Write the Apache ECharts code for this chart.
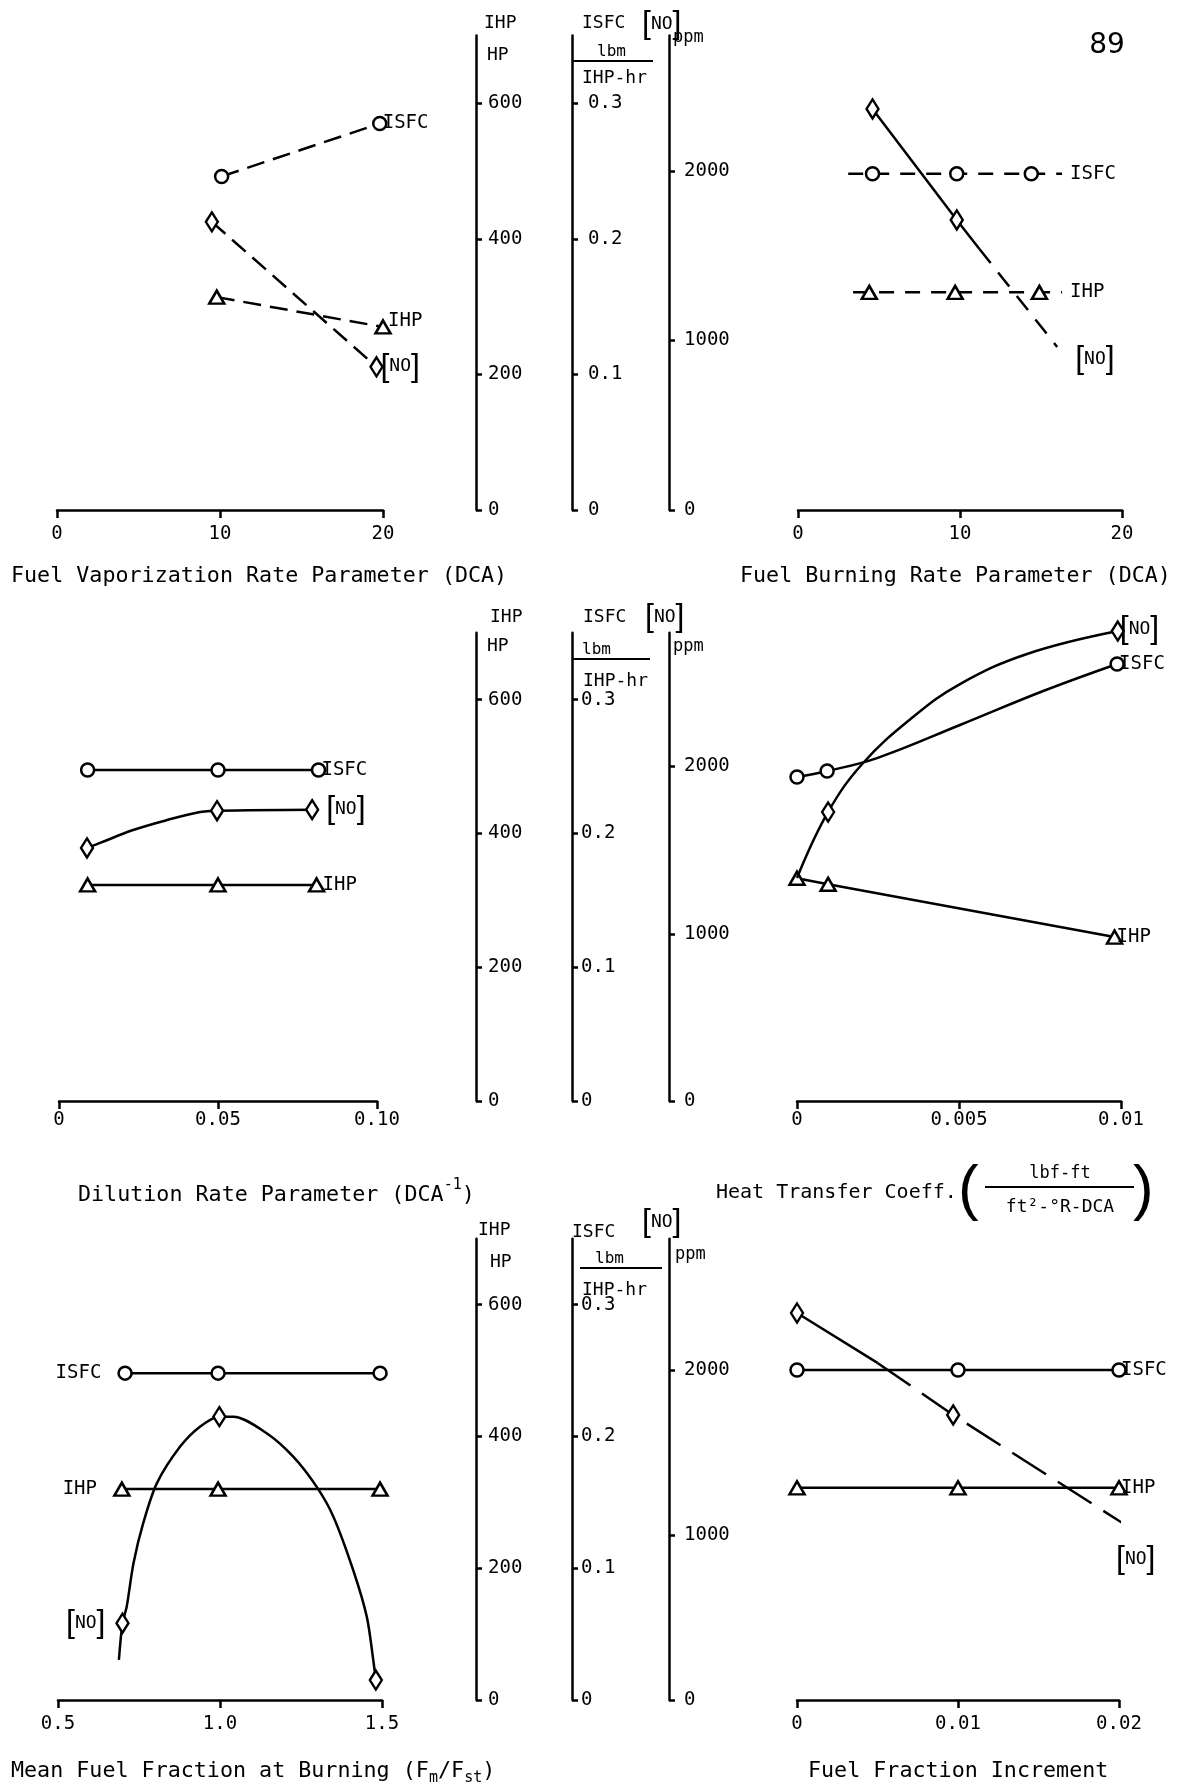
<!DOCTYPE html>
<html>
<head>
<meta charset="utf-8">
<title>ISFC, IHP and NO parameter study</title>
<script src="https://cdn.jsdelivr.net/npm/echarts@6.0.0/dist/echarts.min.js"></script>
<style>
  html, body { margin: 0; padding: 0; background: #fff; }
  #main { width: 1187px; height: 1790px; }
</style>
</head>
<body>
<div id="main"></div>
<script>
/*** values ***/

// shared vertical scales (middle of each row)
const ihpTicks = [0, 200, 400, 600];
const ihpTickLabels = ['0', '200', '400', '600'];
const isfcTicks = [0, 0.1, 0.2, 0.3];
const isfcTickLabels = ['0', '0.1', '0.2', '0.3'];
const ppmTicks = [0, 1000, 2000];
const ppmTickLabels = ['0', '1000', '2000'];

// Fuel Vaporization Rate Parameter (DCA)
const vapTicks = [0, 10, 20];
const vapTickLabels = ['0', '10', '20'];
const vapIsfcX = [10.1, 19.8];
const vapIsfc = [0.246, 0.285];
const vapIhpX = [9.8, 20];
const vapIhp = [314, 270];
const vapNoX = [9.5, 19.6];
const vapNo = [1700, 845];

// Fuel Burning Rate Parameter (DCA)
const burnTicks = [0, 10, 20];
const burnTickLabels = ['0', '10', '20'];
const burnIsfcX = [3.1, 4.6, 9.8, 14.4, 16.3];
const burnIsfc = [0.248, 0.248, 0.248, 0.248, 0.248];
const burnIsfcMarks = [1, 2, 3];
const burnIhpX = [3.4, 4.4, 9.7, 14.9, 16.3];
const burnIhp = [321, 321, 321, 321, 321];
const burnIhpMarks = [1, 2, 3];
const burnNoX = [4.6, 9.8, 11.2];
const burnNo = [2366, 1711, 1540];
const burnNoMarks = [0, 1];
const burnNoExtX = [11.2, 16.0];
const burnNoExt = [1540, 962];

// Dilution Rate Parameter (DCA^-1)
const dilTicks = [0, 0.05, 0.10];
const dilTickLabels = ['0', '0.05', '0.10'];
const dilIsfcX = [0.009, 0.050, 0.0816];
const dilIsfc = [0.2474, 0.2474, 0.2474];
const dilIhpX = [0.009, 0.050, 0.081];
const dilIhp = [323, 323, 323];
const dilNoX = [0.0088, 0.0129, 0.0233, 0.034, 0.0444, 0.0497, 0.0796];
const dilNo = [1513, 1543, 1620, 1680, 1728, 1736, 1742];
const dilNoMarks = [0, 5, 6];

// Heat Transfer Coeff.
const heatTicks = [0, 0.005, 0.01];
const heatTickLabels = ['0', '0.005', '0.01'];
const heatIsfcX = [0, 0.00093, 0.00247, 0.00503, 0.0076, 0.00988];
const heatIsfc = [0.2421, 0.2466, 0.2563, 0.281, 0.3064, 0.3266];
const heatIsfcMarks = [0, 1, 5];
const heatIhpX = [0, 0.00096, 0.0098];
const heatIhp = [333, 324, 245];
const heatNoX = [0, 0.00096, 0.00204, 0.00358, 0.00503, 0.0071, 0.0099];
const heatNo = [1333, 1728, 2021, 2296, 2493, 2673, 2810];
const heatNoMarks = [1, 6];

// Mean Fuel Fraction at Burning (Fm/Fst)
const mffTicks = [0.5, 1.0, 1.5];
const mffTickLabels = ['0.5', '1.0', '1.5'];
const mffIsfcX = [0.707, 0.994, 1.494];
const mffIsfc = [0.248, 0.248, 0.248];
const mffIhpX = [0.697, 0.994, 1.494];
const mffIhp = [320, 320, 320];
const mffNoX = [0.688, 0.699, 0.712, 0.733, 0.763, 0.805, 0.877, 0.938, 0.998, 1.041, 1.144, 1.226, 1.298, 1.350, 1.411, 1.453, 1.473, 1.481];
const mffNo = [243, 466, 566, 830, 1073, 1315, 1538, 1659, 1720, 1720, 1619, 1477, 1295, 1113, 789, 506, 243, 121];
const mffNoMarks = [1, 8, 17];

// Fuel Fraction Increment
const incTicks = [0, 0.01, 0.02];
const incTickLabels = ['0', '0.01', '0.02'];
const incIsfcX = [0, 0.01, 0.02];
const incIsfc = [0.2504, 0.2504, 0.2504];
const incIhpX = [0, 0.01, 0.02];
const incIhp = [322, 322, 322];
const incNoX = [0, 0.005];
const incNo = [2349, 2046];
const incNoDashX = [0.005, 0.0097, 0.0206];
const incNoDash = [2046, 1730, 1050];

/*** layout ***/
const MONO = "'DejaVu Sans Mono', 'Liberation Mono', monospace";
const ROWS = [
  {base: 510, k: 0.678, tickGap: 15, isfcGap: 16},
  {base: 1101, k: 0.669, tickGap: 10, isfcGap: 9},
  {base: 1700, k: 0.659, tickGap: 15, isfcGap: 9}
];
const MID_X = {ihp: 476, isfc: 572, ppm: 669};

const grids = [], xAxes = [], yAxes = [], series = [], graphics = [];

function tickFmt(ticks, labels) {
  return function (v) {
    for (let i = 0; i < ticks.length; i++) {
      if (Math.abs(ticks[i] - v) < 1e-9) return labels[i];
    }
    return '';
  };
}

const axisLineStyle = {color: '#000', width: 2.5};

function addPanel(row, left, width, min, max, ticks, labels) {
  const r = ROWS[row];
  const h = 800 * r.k;
  const gi = grids.length;
  grids.push({left: left, width: width, top: r.base - h, height: h, outerBoundsMode: 'none'});
  xAxes.push({
    gridIndex: gi, type: 'value', min: min, max: max,
    axisLine: {show: true, onZero: false, lineStyle: axisLineStyle},
    axisTick: {show: true, length: 8, customValues: ticks, lineStyle: axisLineStyle},
    axisLabel: {customValues: ticks, formatter: tickFmt(ticks, labels), margin: r.tickGap,
      color: '#000', fontFamily: MONO, fontSize: 19},
    splitLine: {show: false}
  });
  const y0 = yAxes.length;
  yAxes.push({gridIndex: gi, type: 'value', min: 0, max: 800, show: false});
  yAxes.push({gridIndex: gi, type: 'value', min: 0, max: 0.4, show: false});
  yAxes.push({gridIndex: gi, type: 'value', min: 0, max: 3200, show: false});
  return {x: gi, ihp: y0, isfc: y0 + 1, no: y0 + 2};
}

function addMid(row, x, max, ticks, labels, gap) {
  const r = ROWS[row];
  const h = 700 * r.k;
  const gi = grids.length;
  grids.push({left: x - 1, width: 1, top: r.base - h, height: h, outerBoundsMode: 'none'});
  xAxes.push({gridIndex: gi, type: 'value', min: 0, max: 1, show: false});
  yAxes.push({
    gridIndex: gi, type: 'value', position: 'right', min: 0, max: max,
    axisLine: {show: true, onZero: false, lineStyle: axisLineStyle},
    axisTick: {show: true, length: 6, customValues: ticks, lineStyle: axisLineStyle},
    axisLabel: {customValues: ticks, formatter: tickFmt(ticks, labels), margin: gap,
      color: '#000', fontFamily: MONO, fontSize: 19},
    splitLine: {show: false}
  });
}

const P = {
  vap: addPanel(0, 57, 326, 0, 20, vapTicks, vapTickLabels),
  burn: addPanel(0, 798, 324, 0, 20, burnTicks, burnTickLabels),
  dil: addPanel(1, 59, 318, 0, 0.10, dilTicks, dilTickLabels),
  heat: addPanel(1, 797, 324, 0, 0.01, heatTicks, heatTickLabels),
  mff: addPanel(2, 58, 324, 0.5, 1.5, mffTicks, mffTickLabels),
  inc: addPanel(2, 797, 322, 0, 0.02, incTicks, incTickLabels)
};
for (let row = 0; row < 3; row++) {
  addMid(row, MID_X.ihp, 700, ihpTicks, ihpTickLabels, 12);
  addMid(row, MID_X.isfc, 0.35, isfcTicks, isfcTickLabels, ROWS[row].isfcGap);
  addMid(row, MID_X.ppm, 2800, ppmTicks, ppmTickLabels, 15);
}

const SYM = {
  isfc: {symbol: 'circle', size: 13},
  ihp: {symbol: 'triangle', size: [15, 13]},
  no: {symbol: 'diamond', size: [12, 19]}
};
const NO_TEXT = '{b|[}{t|NO}{b|]}';
const NO_RICH = {
  b: {fontFamily: "'Liberation Sans', sans-serif", fontSize: 32, color: '#000'},
  t: {fontFamily: MONO, fontSize: 18, color: '#000'}
};
function labelStyle(name) {
  return {color: '#000', fontFamily: MONO, fontSize: 19,
    formatter: name === '[NO]' ? NO_TEXT : name, rich: NO_RICH};
}

function addLine(p, kind, xs, ys, o) {
  o = o || {};
  const data = xs.map(function (x, i) {
    const d = {value: [x, ys[i]]};
    if (o.marks && o.marks.indexOf(i) < 0) d.symbol = 'none';
    if (o.start && i === (o.startIdx || 0)) {
      d.label = Object.assign({show: true, position: 'left', distance: o.start[1]}, labelStyle(o.start[0]));
    }
    return d;
  });
  const s = {
    type: 'line', xAxisIndex: p.x, yAxisIndex: p[kind], data: data,
    symbol: SYM[kind].symbol, symbolSize: SYM[kind].size,
    smooth: o.smooth || false, clip: false, silent: true,
    lineStyle: {color: '#000', width: 2.5, type: o.dash || 'solid'},
    itemStyle: {color: '#fff', borderColor: '#000', borderWidth: 2.5},
    label: {show: false},
    z: kind === 'no' ? 3 : 2
  };
  if (o.end) {
    s.endLabel = Object.assign({show: true, distance: o.end[1], offset: o.end[2] || [0, 0]}, labelStyle(o.end[0]));
  }
  series.push(s);
}

const DASH = [18, 9];

// row 1
addLine(P.vap, 'isfc', vapIsfcX, vapIsfc, {dash: DASH, end: ['ISFC', 3]});
addLine(P.vap, 'ihp', vapIhpX, vapIhp, {dash: DASH, end: ['IHP', 5, [0, -6]]});
addLine(P.vap, 'no', vapNoX, vapNo, {dash: DASH, end: ['[NO]', 4]});

addLine(P.burn, 'isfc', burnIsfcX, burnIsfc, {dash: [15, 11], marks: burnIsfcMarks, end: ['ISFC', 8]});
addLine(P.burn, 'ihp', burnIhpX, burnIhp, {dash: [15, 11], marks: burnIhpMarks, end: ['IHP', 8]});
addLine(P.burn, 'no', burnNoX, burnNo, {marks: burnNoMarks});
addLine(P.burn, 'no', burnNoExtX, burnNoExt, {dash: [18, 12], marks: [], end: ['[NO]', 0, [18, 12]]});

// row 2
addLine(P.dil, 'isfc', dilIsfcX, dilIsfc, {end: ['ISFC', 3]});
addLine(P.dil, 'no', dilNoX, dilNo, {smooth: 0.4, marks: dilNoMarks, end: ['[NO]', 14]});
addLine(P.dil, 'ihp', dilIhpX, dilIhp, {end: ['IHP', 6]});

addLine(P.heat, 'isfc', heatIsfcX, heatIsfc, {smooth: 0.4, marks: heatIsfcMarks, end: ['ISFC', 2]});
addLine(P.heat, 'no', heatNoX, heatNo, {smooth: 0.4, marks: heatNoMarks, end: ['[NO]', 2, [0, -2]]});
addLine(P.heat, 'ihp', heatIhpX, heatIhp, {end: ['IHP', 2]});

// row 3
addLine(P.mff, 'isfc', mffIsfcX, mffIsfc, {start: ['ISFC', 16]});
addLine(P.mff, 'ihp', mffIhpX, mffIhp, {start: ['IHP', 16]});
addLine(P.mff, 'no', mffNoX, mffNo, {smooth: 0.3, marks: mffNoMarks, startIdx: 1, start: ['[NO]', 10]});

addLine(P.inc, 'isfc', incIsfcX, incIsfc, {end: ['ISFC', 2]});
addLine(P.inc, 'ihp', incIhpX, incIhp, {end: ['IHP', 2]});
addLine(P.inc, 'no', incNoX, incNo, {marks: [0]});
addLine(P.inc, 'no', incNoDashX, incNoDash, {dash: [40, 14], marks: [1], end: ['[NO]', 0, [-5, 37]]});

/*** text furniture ***/
function txt(text, x, y, size, align, family, extra) {
  const st = Object.assign({
    text: text, fill: '#000', fontSize: size, fontFamily: family || MONO,
    textAlign: align || 'left', align: align || 'left',
    textVerticalAlign: 'middle', verticalAlign: 'middle'
  }, extra || {});
  graphics.push({type: 'text', x: x, y: y, silent: true, style: st});
}
function noTag(x, y) {
  txt(NO_TEXT, x, y, 18, 'left', MONO, {rich: NO_RICH});
}
function hline(x1, x2, y) {
  graphics.push({type: 'line', silent: true, shape: {x1: x1, y1: y, x2: x2, y2: y},
    style: {stroke: '#000', lineWidth: 2}});
}
// text run with sub/superscripts, monospace advance 0.602 em
function run(x, y, parts) {
  parts.forEach(function (pt) {
    txt(pt[0], x, y + pt[2], pt[1]);
    x += pt[0].length * 0.602 * pt[1];
  });
}

// middle axis headings
const heads = [
  {ihp: [484, 23], hp: [487, 55], isfc: [582, 23], no: [642, 24], lbm: [597, 52], line: [572, 653, 61], hr: [582, 78], ppm: [673, 38]},
  {ihp: [490, 617], hp: [487, 646], isfc: [583, 617], no: [645, 617], lbm: [582, 650], line: [572, 650, 659], hr: [583, 681], ppm: [673, 647]},
  {ihp: [478, 1230], hp: [490, 1262], isfc: [572, 1232], no: [642, 1222], lbm: [595, 1259], line: [580, 662, 1268], hr: [582, 1290], ppm: [675, 1255]}
];
heads.forEach(function (h) {
  txt('IHP', h.ihp[0], h.ihp[1], 18);
  txt('HP', h.hp[0], h.hp[1], 18);
  txt('ISFC', h.isfc[0], h.isfc[1], 18);
  noTag(h.no[0], h.no[1]);
  txt('lbm', h.lbm[0], h.lbm[1], 16);
  hline(h.line[0], h.line[1], h.line[2]);
  txt('IHP-hr', h.hr[0], h.hr[1], 18);
  txt('ppm', h.ppm[0], h.ppm[1], 17);
});

const TS = 21.7;
txt('Fuel Vaporization Rate Parameter (DCA)', 11, 576, TS);
txt('Fuel Burning Rate Parameter (DCA)', 740, 576, TS);
run(78, 1195, [['Dilution Rate Parameter (DCA', TS, 0], ['-1', 15, -10], [')', TS, 0]]);
txt('Heat Transfer Coeff.', 716, 1193, 20);
txt('(', 958, 1191, 62, 'left', "'Liberation Sans', sans-serif");
txt('lbf-ft', 1060, 1174, 17, 'center');
hline(985, 1134, 1187);
txt('ft\u00b2-\u00b0R-DCA', 1060, 1207, 18, 'center');
txt(')', 1133, 1191, 62, 'left', "'Liberation Sans', sans-serif");
run(11, 1771, [['Mean Fuel Fraction at Burning (F', TS, 0], ['m', 15, 7], ['/F', TS, 0], ['st', 15, 7], [')', TS, 0]]);
txt('Fuel Fraction Increment', 808, 1771, TS);
txt('89', 1107, 46, 28, 'center', "'DejaVu Sans', sans-serif");

const chart = echarts.init(document.getElementById('main'));
chart.setOption({
  backgroundColor: '#fff',
  animation: false,
  grid: grids,
  xAxis: xAxes,
  yAxis: yAxes,
  series: series,
  graphic: {elements: graphics}
});
</script>
</body>
</html>
